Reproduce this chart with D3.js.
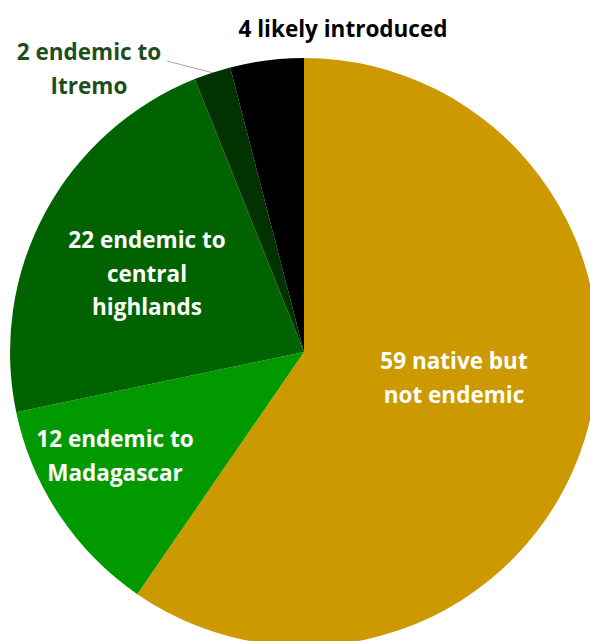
<!DOCTYPE html>
<html>
<head>
<meta charset="utf-8">
<script src="https://cdn.jsdelivr.net/npm/d3@7"></script>
<style>
  body { margin: 0; background: #fff; }
  svg { display: block; }
  text { font-family: "Open Sans", "Noto Sans", sans-serif; font-weight: bold; }
</style>
</head>
<body>
<svg id="chart" width="590" height="641"></svg>
<script>
// species counts, clockwise from 12 o'clock
var categories = ['native', 'madagascar', 'highlands', 'itremo', 'introduced'];
var counts = [59, 12, 22, 2, 4];
var colors = ['#cc9900', '#009900', '#006300', '#003300', '#000000'];
var labels = [
    ['59 native but', 'not endemic'],
    ['12 endemic to', 'Madagascar'],
    ['22 endemic to', 'central', 'highlands'],
    ['2 endemic to', 'Itremo'],
    ['4 likely introduced']
];

var svg = d3.select('#chart');
var cx = 304, cy = 352, radius = 294;
var lineGap = 33.5;

var slices = d3.pie().sort(null).value(function(d) { return d; })(counts);
var arc = d3.arc().innerRadius(0).outerRadius(radius);

var g = svg.append('g').attr('transform', 'translate(' + cx + ',' + cy + ')');

g.selectAll('.slice').data(slices).enter()
        .append('path')
        .attr('class', 'slice')
        .attr('d', arc)
        .attr('fill', function(d, i) { return colors[i]; });

// label anchor points (offset from pie centre) and text colours
var labelPos = [
    {dx: 150, dy: 17, fill: '#ffffff'},
    {dx: -189, dy: 95, fill: '#ffffff'},
    {dx: -157, dy: -104, fill: '#ffffff'},
    {dx: -215, dy: -292, fill: '#1e4d1e'},
    {dx: 39, dy: -315, fill: '#000000'}
];

labels.forEach(function(lines, i) {
    var p = labelPos[i];
    var t = svg.append('text')
            .attr('text-anchor', 'middle')
            .attr('font-size', '22.5px')
            .attr('fill', p.fill);
    lines.forEach(function(line, j) {
        t.append('tspan')
                .attr('x', cx + p.dx)
                .attr('y', cy + p.dy + j * lineGap)
                .text(line);
    });
});

// leader line for the small Itremo slice
var itremoMid = (slices[3].startAngle + slices[3].endAngle) / 2;
svg.append('path')
        .attr('d', 'M' + 167 + ',' + 61 + 'L' + (cx + radius * Math.sin(itremoMid)) + ',' + (cy - radius * Math.cos(itremoMid)))
        .attr('stroke', '#a6a6a6')
        .attr('stroke-width', 1)
        .attr('fill', 'none');
</script>
</body>
</html>
